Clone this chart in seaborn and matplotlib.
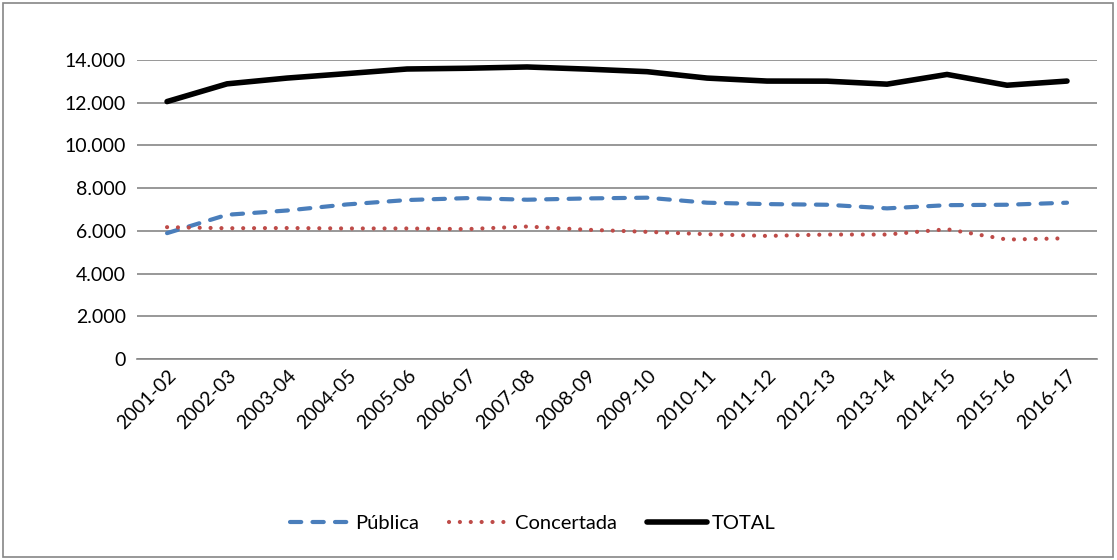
import matplotlib
matplotlib.use("Agg")
import matplotlib.pyplot as plt
import matplotlib.ticker as mticker
from matplotlib.patches import Rectangle
import pandas as pd
import seaborn as sns

cursos = ["2001-02", "2002-03", "2003-04", "2004-05", "2005-06", "2006-07",
          "2007-08", "2008-09", "2009-10", "2010-11", "2011-12", "2012-13",
          "2013-14", "2014-15", "2015-16", "2016-17"]
publica = [5890, 6750, 6950, 7235, 7440, 7530, 7455, 7515, 7550, 7315,
           7250, 7220, 7050, 7200, 7220, 7315]
concertada = [6170, 6120, 6130, 6110, 6110, 6080, 6200, 6050, 5950, 5840,
              5760, 5825, 5825, 6075, 5590, 5650]
total = [12050, 12880, 13150, 13360, 13575, 13610, 13670, 13570, 13450, 13150,
         13010, 13005, 12865, 13320, 12815, 13010]

df = pd.DataFrame({"idx": range(len(cursos)), "Pública": publica,
                   "Concertada": concertada, "TOTAL": total})

sns.set_style("white")
plt.rcParams["font.family"] = ["Lato", "DejaVu Sans"]
plt.rcParams["text.color"] = "black"

fig = plt.figure(figsize=(11.17, 5.6), dpi=100)
ax = fig.add_axes([0.1227, 0.359, 0.8594, 0.534])

sns.lineplot(data=df, x="idx", y="Pública", ax=ax, color="#4A7EBB",
             linewidth=3.0, label="Pública")
ax.lines[-1].set_dashes([2.7, 2.7])
ax.lines[-1].set_dash_capstyle("round")
sns.lineplot(data=df, x="idx", y="Concertada", ax=ax, color="#BE4B48",
             linewidth=3.0, label="Concertada")
ax.lines[-1].set_dashes([0.01, 2.6])
ax.lines[-1].set_dash_capstyle("round")
sns.lineplot(data=df, x="idx", y="TOTAL", ax=ax, color="black",
             linewidth=4.0, label="TOTAL")
ax.lines[-1].set_solid_capstyle("round")

ax.set_xlim(-0.5, len(cursos) - 0.5)
ax.set_ylim(0, 14000)
ax.set_yticks(range(0, 14001, 2000))
ax.yaxis.set_major_formatter(
    mticker.FuncFormatter(lambda v, p: f"{int(v):,}".replace(",", ".")))
ax.set_xticks(range(len(cursos)))
ax.set_xticklabels(cursos, rotation=45, ha="right", rotation_mode="anchor",
                   fontsize=14, color="black")
ax.tick_params(axis="y", labelsize=14, labelcolor="black", length=0, pad=8)
ax.tick_params(axis="x", length=0, pad=6)
ax.set_xlabel("")
ax.set_ylabel("")
ax.grid(axis="y", color="#868686", linewidth=1.2)
for side in ["top", "right", "left"]:
    ax.spines[side].set_visible(False)
ax.spines["bottom"].set_color("#868686")
ax.spines["bottom"].set_linewidth(1.2)

leg = ax.legend(loc="center", bbox_to_anchor=(0.477, 0.066),
                bbox_transform=fig.transFigure, ncol=3, frameon=False,
                fontsize=14.5, handlelength=3.0, columnspacing=1.5,
                handletextpad=0.25)

fig.patches.append(Rectangle((0.003, 0.005), 0.993, 0.99, fill=False,
                             edgecolor="#868686", linewidth=1.2,
                             transform=fig.transFigure, figure=fig))

plt.savefig("out.png", dpi=100)
plt.close()
